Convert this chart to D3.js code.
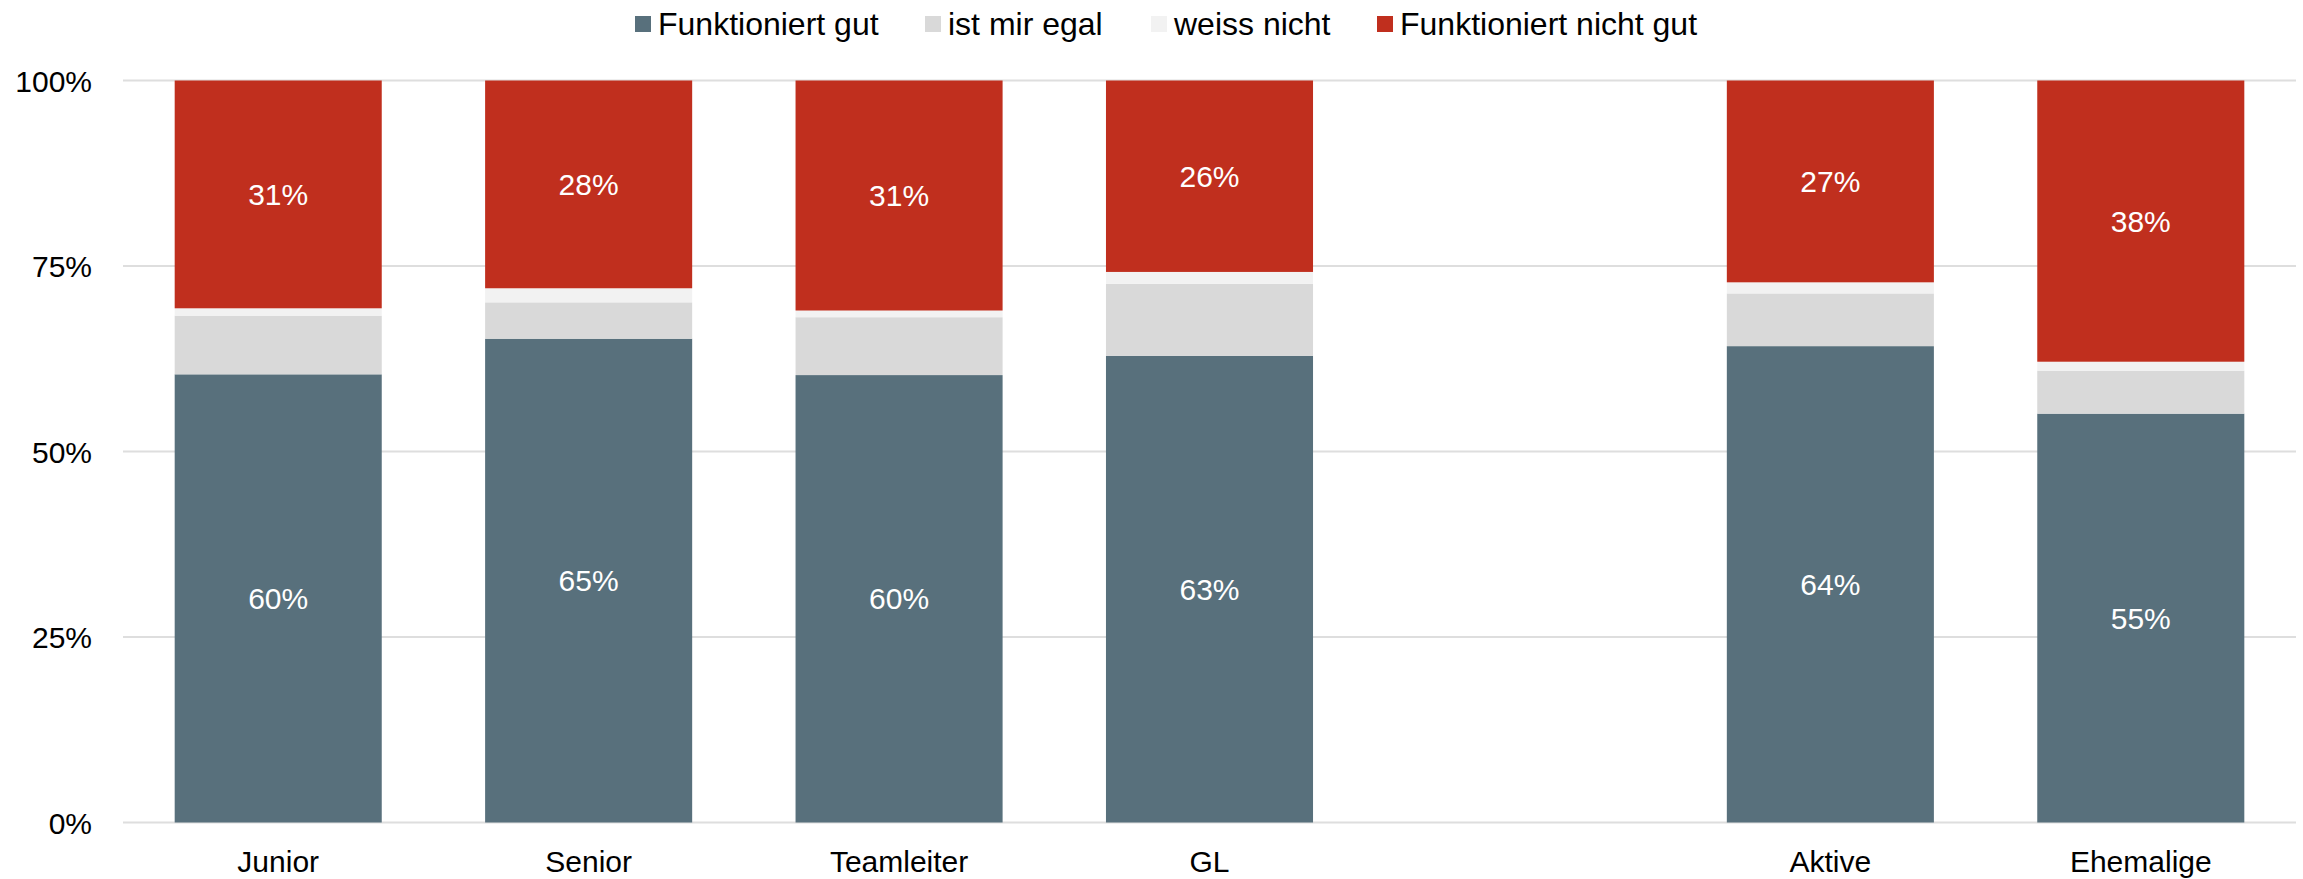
<!DOCTYPE html>
<html>
<head>
<meta charset="utf-8">
<script src="https://cdn.jsdelivr.net/npm/d3@7"></script>
<style>
  html, body { margin: 0; padding: 0; background: #fff; }
  svg text { font-family: "Liberation Sans", Arial, sans-serif; }
</style>
</head>
<body>
<svg id="chart" width="2303" height="879"></svg>
<script>
// ---- data ----
const categories = ["Junior", "Senior", "Teamleiter", "GL", "", "Aktive", "Ehemalige"];
const seriesNames = ["Funktioniert gut", "ist mir egal", "weiss nicht", "Funktioniert nicht gut"];
const funktioniertGut      = [60.4, 65.2, 60.3, 62.9, null, 64.2, 55.1];
const istMirEgal           = [7.9, 4.9, 7.8, 9.7, null, 7.1, 5.8];
const weissNicht           = [1.0, 1.9, 0.9, 1.6, null, 1.5, 1.2];
const funktioniertNichtGut = [30.7, 28.0, 31.0, 25.8, null, 27.2, 37.9];
const yTicks = [0, 25, 50, 75, 100];
const seriesColors = ["#58707c", "#d9d9d9", "#f2f2f2", "#c02f1e"];
const labelledSeries = [true, false, false, true];

// ---- layout ----
const svg = d3.select("#chart");
const plotLeft = 123, plotRight = 2296, plotTop = 80.5, plotBottom = 822.5;

const x = d3.scaleBand().domain(categories.map((c, i) => i)).range([plotLeft, plotRight])
  .paddingInner(0.333).paddingOuter(0.1665);
const y = d3.scaleLinear().domain([0, 100]).range([plotBottom, plotTop]);

// gridlines
svg.append("g").selectAll("line").data(yTicks).join("line")
  .attr("x1", plotLeft).attr("x2", plotRight)
  .attr("y1", d => y(d)).attr("y2", d => y(d))
  .attr("stroke", "#dedede").attr("stroke-width", 2);

// y axis labels
const yAxis = d3.axisLeft(y).tickValues(yTicks).tickFormat(d => d + "%").tickSize(0).tickPadding(0);
const gy = svg.append("g").attr("transform", `translate(${plotLeft - 31},0)`).call(yAxis);
gy.select(".domain").remove();
gy.selectAll("text").attr("font-size", 30).attr("fill", "#000").attr("dy", "0.35em")
  .style("font-family", "'Liberation Sans', Arial, sans-serif");

// stacked data
const rows = categories.map((c, i) => ({
  idx: i,
  values: [funktioniertGut[i], istMirEgal[i], weissNicht[i], funktioniertNichtGut[i]]
})).filter(r => r.values[0] !== null);

const keys = [0, 1, 2, 3];
const stack = d3.stack().keys(keys).value((d, k) => d.values[k]);
const stacked = stack(rows);

const layers = svg.append("g").selectAll("g").data(stacked).join("g")
  .attr("fill", d => seriesColors[d.key]);
layers.selectAll("rect").data(d => d).join("rect")
  .attr("x", d => x(d.data.idx))
  .attr("width", x.bandwidth())
  .attr("y", d => y(d[1]))
  .attr("height", d => y(d[0]) - y(d[1]));

// value labels
const labels = svg.append("g");
stacked.forEach(layer => {
  if (!labelledSeries[layer.key]) return;
  labels.append("g").selectAll("text").data(layer).join("text")
    .attr("x", d => x(d.data.idx) + x.bandwidth() / 2)
    .attr("y", d => (y(d[0]) + y(d[1])) / 2)
    .attr("dy", "0.35em")
    .attr("text-anchor", "middle")
    .attr("font-size", 30)
    .attr("fill", "#fff")
    .text(d => Math.round(d[1] - d[0]) + "%");
});

// x axis labels
const xAxis = d3.axisBottom(x).tickFormat(i => categories[i]).tickSize(0).tickPadding(0);
const gx = svg.append("g").attr("transform", `translate(0,${plotBottom})`).call(xAxis);
gx.select(".domain").remove();
gx.selectAll("text").attr("font-size", 30).attr("fill", "#000").attr("dy", 0).attr("y", 49)
  .style("font-family", "'Liberation Sans', Arial, sans-serif");

// legend
const legendX = [635, 925, 1151, 1377];
const legend = svg.append("g");
const items = legend.selectAll("g").data(seriesNames).join("g")
  .attr("transform", (d, i) => `translate(${legendX[i]},0)`);
items.append("rect").attr("x", 0).attr("y", 16).attr("width", 16).attr("height", 16)
  .attr("fill", (d, i) => seriesColors[i]);
items.append("text").attr("x", 23).attr("y", 24).attr("dy", "0.35em")
  .attr("font-size", 32).attr("fill", "#000").text(d => d);
</script>
</body>
</html>
